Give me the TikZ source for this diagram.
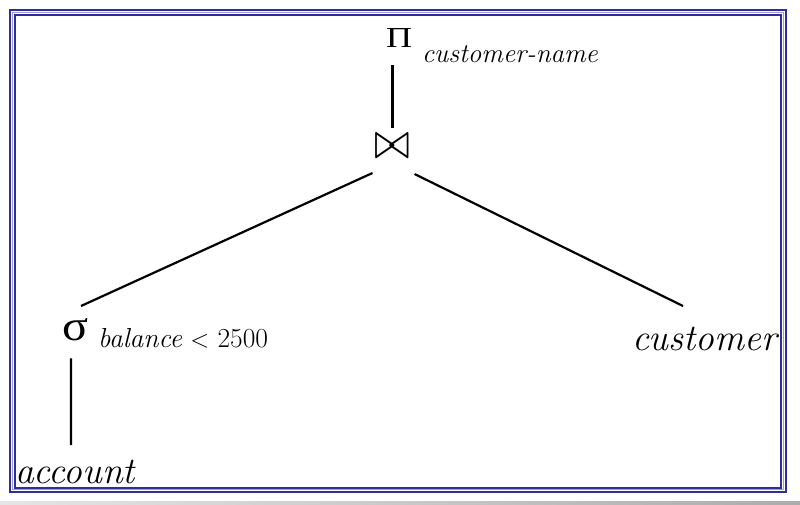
\documentclass[tikz,border=0pt]{standalone}
\usepackage{graphicx}
\usepackage{fontspec}
\newfontfamily\grkfont{Liberation Serif}
\usetikzlibrary{shadings}
\definecolor{framedark}{HTML}{2E2E96}
\definecolor{framelight}{HTML}{9C9CD6}
\tikzset{
  edge/.style={line width=2.2pt, black},
  lbl/.style={inner sep=0pt, outer sep=0pt, anchor=base west},
  sym/.style={inner sep=0pt, outer sep=0pt, anchor=north west},
}
\begin{document}
\begin{tikzpicture}[x=1pt,y=-1pt]
\useasboundingbox (0,0) rectangle (800,505);
% frame
\shade[left color=gray!20, right color=gray!65] (0,501) rectangle (800,505);
\draw[framedark, line width=2.6pt] (10,10) rectangle (786,492);
\draw[framelight, line width=1.2pt] (12.4,12.4) rectangle (783.6,489.6);
\draw[framedark, line width=2.4pt] (14.8,14.8) rectangle (781.2,487.8);
% operators
\node[sym] (pi) at (386,28) {\resizebox{26pt}{19pt}{\grkfont Π}};
\node[lbl] (piattr) at (422,63) {\fontsize{27}{27}\selectfont\itshape customer-name};
\node[sym] (join) at (374.5,134) {\resizebox{36pt}{24pt}{$\bowtie$}};
\node[sym] (sigma) at (62,318) {\resizebox{26pt}{22pt}{\grkfont σ}};
\node[lbl] (sigattr) at (98,347) {\fontsize{27.5}{27.5}\selectfont\textit{balance} $<$ 2500};
\node[lbl] (customer) at (632,350) {\fontsize{37.5}{37.5}\selectfont\itshape customer};
\node[lbl] (account) at (15,483) {\fontsize{37.5}{37.5}\selectfont\itshape account};
% edges
\draw[edge] ([yshift=-18pt]join.north |- pi.south) -- ([yshift=6pt]join.north);
\draw[edge] ([xshift=-2pt,yshift=-15pt]join.south west) -- ([xshift=6pt,yshift=12pt]sigma.north);
\draw[edge] ([xshift=4pt,yshift=-16pt]join.south east) -- ([xshift=51pt,yshift=44pt]customer.base west);
\draw[edge] ([xshift=-4pt,yshift=-18pt]sigma.south) -- ([xshift=56pt,yshift=38pt]account.base west);
\end{tikzpicture}
\end{document}
